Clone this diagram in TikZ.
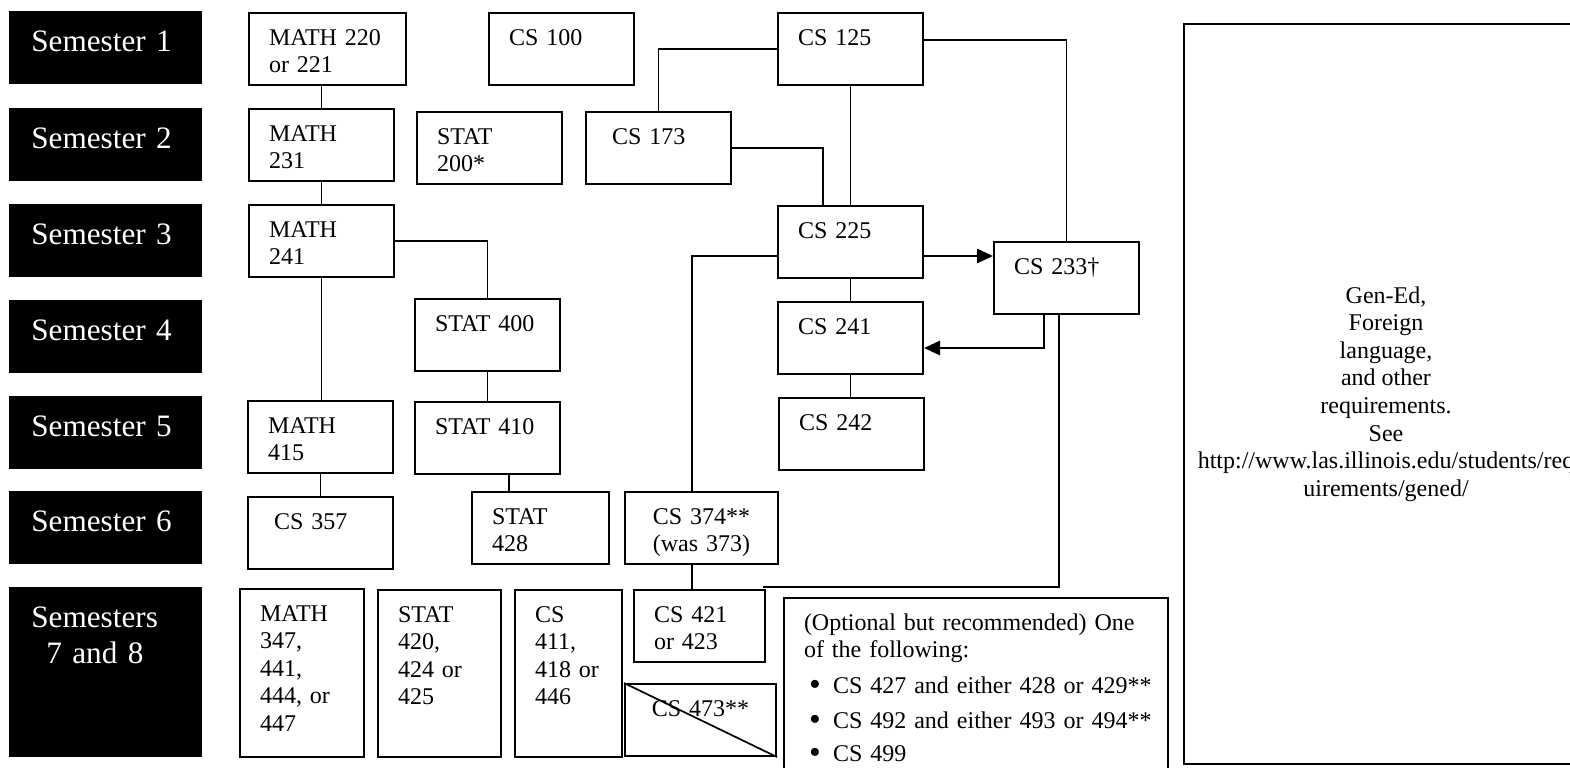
\documentclass[tikz,border=0pt]{standalone}
\usepackage{fontspec}
\setmainfont{Liberation Serif}
\usetikzlibrary{arrows.meta}
\newcommand{\semfont}{\fontsize{15.6pt}{18pt}\selectfont}
\newcommand{\coursefont}{\fontsize{12pt}{13.8pt}\selectfont}
\newcommand{\optbullet}{\makebox[14.5pt][l]{\hspace{2.5pt}\raisebox{-0.9pt}{\scalebox{1.4}{\textbullet}}}}
\tikzstyle{sem}=[fill=black, text=white, anchor=north west, align=left,
                 text width=74.5pt, inner xsep=11pt, inner ysep=9pt,
                 text height=11pt, text depth=7.5pt, font=\semfont]
\tikzstyle{course}=[draw, line width=1pt, anchor=north west, align=left,
                    text width=52.5pt, inner xsep=10pt, inner ysep=7.5pt,
                    text height=8.5pt, text depth=12.5pt, font=\coursefont]
\tikzstyle{genbox}=[draw, line width=1pt, minimum width=202pt,
                    minimum height=370pt, align=center, font=\coursefont]
\tikzstyle{link}=[line width=0.85pt]
\tikzstyle{arrowlink}=[line width=1.4pt, -{Triangle[length=8pt,width=7pt]}]

\begin{document}
\begin{tikzpicture}[x=0.5pt,y=-0.5pt]
      \clip (0,0) rectangle (1570,767);
      \node[sem] (sem1) at (9,11) {Semester 1};
      \node[sem] (sem2) at (9,108) {Semester 2};
      \node[sem] (sem3) at (9,204) {Semester 3};
      \node[sem] (sem4) at (9,300) {Semester 4};
      \node[sem] (sem5) at (9,396) {Semester 5};
      \node[sem] (sem6) at (9,491) {Semester 6};
      \node[sem, text depth=56pt] (sem78) at (9,587) {Semesters\\\hspace*{7.5pt}7 and 8};

      \node[course, text width=58.5pt] (m220) at (248,12) {MATH 220\\or 221};
      \node[course] (cs100) at (488,12) {CS 100};
      \node[course] (cs125) at (777,12) {CS 125};
      \node[course] (m231) at (248,108) {MATH\\231};
      \node[course] (st200) at (416,111) {STAT\\200*};
      \node[course] (cs173) at (585,111) {\hspace*{3pt}CS 173};
      \node[course] (m241) at (248,204) {MATH\\241};
      \node[course] (cs225) at (777,205) {CS 225};
      \node[course] (cs233) at (993,241) {CS 233\textdagger};
      \node[course] (st400) at (414,298) {STAT 400};
      \node[course] (cs241) at (777,301) {CS 241};
      \node[course] (m415) at (247,400) {MATH\\415};
      \node[course] (st410) at (414,401) {STAT 410};
      \node[course] (cs242) at (778,397) {CS 242};
      \node[course] (cs357) at (247,496) {\hspace*{3pt}CS 357};
      \node[course, text width=48.5pt] (st428) at (471,491) {STAT\\428};
      \node[course, text width=56.5pt, align=center] (cs374) at (624,491) {CS 374**\\(was 373)};
      \node[course, text width=42pt, text depth=60.5pt] (m347) at (239,588) {MATH\\347,\\441,\\444, or\\447};
      \node[course, text width=41.5pt, text depth=60pt] (st420) at (377,589) {STAT\\420,\\424 or\\425};
      \node[course, text width=33.5pt, text depth=60pt] (cs411) at (514,589) {CS\\411,\\418 or\\446};
      \node[course, text width=45.5pt] (cs421) at (633,589) {CS 421\\or 423};
      \node[course, text width=55.5pt, align=center] (cs473) at (624,683) {CS 473**};
      \node[course, text width=172pt, text depth=78pt] (optional) at (783,597)
        {\mbox{(Optional but recommended) One}\\of the following:\\[4.2pt]
         \mbox{\optbullet CS 427 and either 428 or 429**}\\[3.5pt]
         \mbox{\optbullet CS 492 and either 493 or 494**}\\[3pt]
         \mbox{\optbullet CS 499}};
      \node[genbox] (gened) at (1386,394)
        {Gen-Ed,\\Foreign\\language,\\and other\\requirements.\\See\\
         http://www.las.illinois.edu/students/req\\uirements/gened/};

      \draw[link] (m231.north) -- (m231.north |- m220.south);
      \draw[link] (m231) -- (m241);
      \draw[link] (m241.south) -- (m241.south |- m415.north);
      \draw[link] (m415.south) -- (m415.south |- cs357.north);
      \draw[link] (m241.east) -| (st400.north);
      \draw[link] (st400) -- (st410);
      \coordinate (st428top) at ([xshift=19pt]st428.north west);
      \draw[link] (st428top |- st410.south) -- (st428top);
      \draw[link] (cs125.west) -| (cs173.north);
      \draw[link] (cs125.south) -- (cs125.south |- cs225.north);
      \draw[link] (cs173.east) -| ([xshift=23pt]cs225.north west);
      \draw[link] ([yshift=4.5pt]cs125.east) -| (cs233.north);
      \draw[arrowlink] ([yshift=-7pt]cs225.east) -- ([yshift=11pt]cs233.west);
      \draw[arrowlink] ([xshift=25.5pt]cs233.south west) |- ([yshift=-5pt]cs241.east);
      \draw[link] ([yshift=-7pt]cs225.west) -| ([xshift=34pt]cs374.north west);
      \draw[link] (cs225) -- (cs241);
      \draw[link] (cs241.south) -- (cs241.south |- cs242.north);
      \coordinate (cs374low) at ([xshift=34pt]cs374.south west);
      \draw[link] (cs374low) -- (cs374low |- cs421.north);
      \draw[link] ([xshift=33pt]cs233.south west) |- ([shift={(-1.5pt,1pt)}]cs421.north east);
      \draw[link] (cs473.north west) -- (cs473.south east);
\end{tikzpicture}
\end{document}
